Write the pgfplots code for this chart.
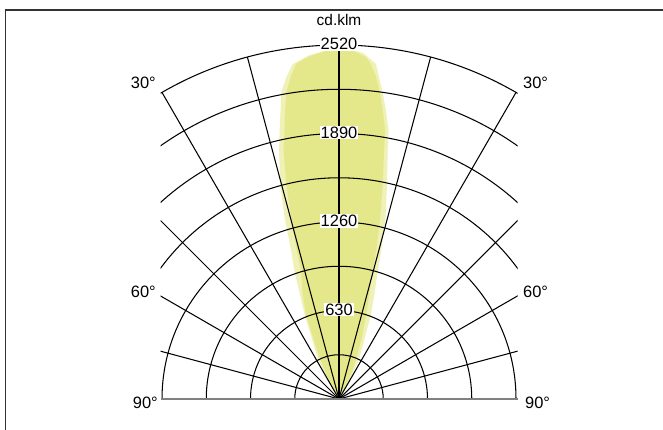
\documentclass[border=0pt]{standalone}
\usepackage{pgfplots}
\pgfplotsset{compat=1.18}
\usepackage{fontspec}
\setmainfont{Liberation Sans}
\definecolor{beamin}{RGB}{229,232,138}
\definecolor{beamout}{RGB}{239,241,183}
\definecolor{framegray}{RGB}{51,51,51}

\begin{document}
\begin{tikzpicture}[x=1bp,y=1bp]
\useasboundingbox (0,0) rectangle (663,429);
% frame, only left and top edges visible
\draw[framegray, line width=1.6bp] (5.3,-20) -- (5.3,418.7) -- (690,418.7);

\begin{axis}[
  at={(339bp,30bp)}, anchor=origin,
  x=0.140476bp, y=0.140476bp,
  xmin=-1270.7, xmax=1270.7, ymin=0, ymax=2540,
  axis lines=none, ticks=none,
  clip=true,
]
% outer plane (angle, cd)
\addplot[data cs=polar, fill=beamout, draw=none] coordinates {
  (56,0) (60,142) (63.6,327) (69.3,648) (73.1,954) (74.1,1096) (75.6,1331)
  (77.4,1566) (78.9,1801) (79.5,1940) (80.8,2086) (82,2214) (83.7,2399)
  (86,2470) (90,2506) (95,2456) (97.9,2406) (99.3,2321) (100.6,2228)
  (102.5,1954) (103.6,1815) (105.3,1587) (106.7,1345) (107.9,1107)
  (109.2,965) (112.1,653) (117.5,332) (121,142) (125,0)
};
% inner plane
\addplot[data cs=polar, fill=beamin, draw=none] coordinates {
  (59,0) (62,100) (64.5,214) (67,320) (69.5,460) (72.1,634) (74.7,868)
  (75.9,1089) (77.2,1324) (78.5,1559) (79.7,1794) (80.2,1936) (81.4,2079)
  (82.5,2214) (83.5,2314) (84.5,2392) (85.5,2442) (87.5,2477) (90,2499)
  (92.5,2477) (94.9,2449) (96.1,2427) (97.3,2406) (98.5,2321) (99.7,2221)
  (100.6,2086) (101.5,1947) (102.6,1808) (103.8,1573) (104.8,1335)
  (105.9,1096) (106.5,950) (109,797) (111.5,641) (115.3,325) (119,142) (123,0)
};
% grid
\pgfplotsinvokeforeach{315,630,945,1260,1575,1890,2205,2520}{
  \draw[black, line width=1.05bp] (axis cs:0,0) circle[radius=#1];
}
\pgfplotsinvokeforeach{15,30,45,60,75,105,120,135,150,165}{
  \draw[black, line width=1.05bp] (axis cs:0,0) -- (axis cs:{2520*cos(#1)},{2520*sin(#1)});
}
\end{axis}

% 0 degree radial and 90 degree baseline
\draw[black, line width=1.4bp] (339,30) -- (339,384);
\draw[black!50, line width=1.3bp] (161,30) -- (518,30);

\begin{scope}[every node/.style={font=\fontsize{16.5}{19}\selectfont, inner sep=1bp}]
\node[fill=white] at (339,385) {2520};
\node[fill=white] at (339,296.5) {1890};
\node[fill=white] at (339,208) {1260};
\node[fill=white] at (339,119.5) {630};
\node[anchor=east] at (157,346.5) {30°};
\node[anchor=east] at (157,137.5) {60°};
\node[anchor=east] at (159,26) {90°};
\node[anchor=west] at (522,346.5) {30°};
\node[anchor=west] at (522,137.5) {60°};
\node[anchor=west] at (524,26) {90°};
\node[font=\fontsize{15.5}{18}\selectfont] at (339,409) {cd.klm};
\end{scope}
\end{tikzpicture}
\end{document}
